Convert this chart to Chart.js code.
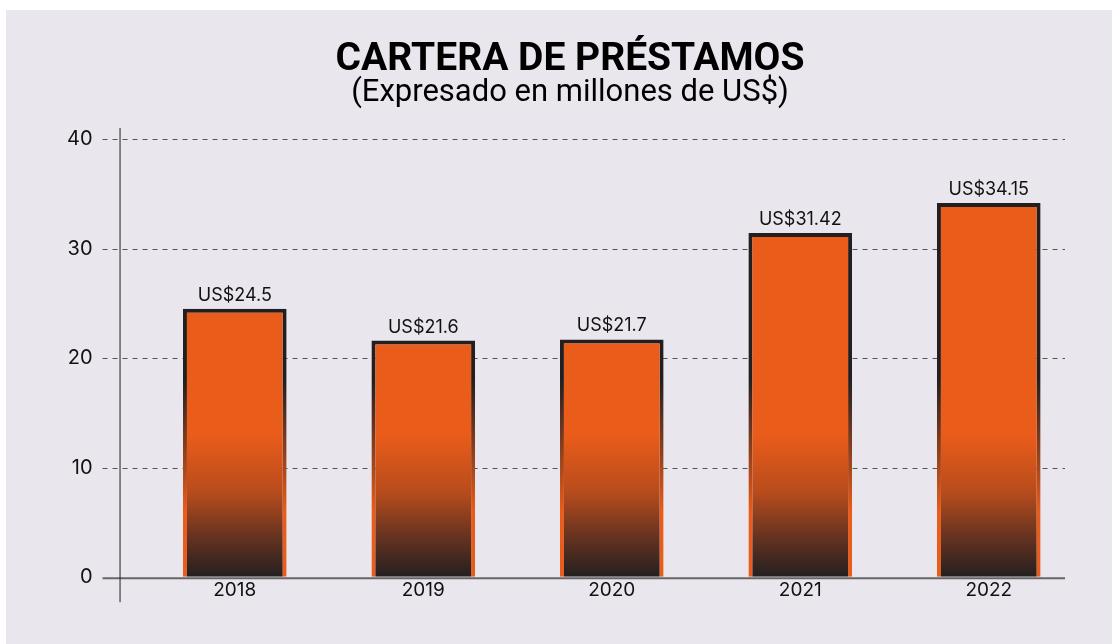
<!DOCTYPE html>
<html>
<head>
<meta charset="utf-8">
<script src="https://cdn.jsdelivr.net/npm/chart.js@4.4.0/dist/chart.umd.min.js"></script>
<style>
  body { margin: 0; background: #fff; }
  #bg { position: absolute; left: 6px; top: 10px; width: 1106px; height: 634px; background: #e9e6ed; }
  #wrap { position: absolute; left: 0; top: 0; width: 1112px; height: 644px; }
</style>
</head>
<body>
<div id="bg"></div>
<div id="wrap"><canvas id="carteraChart"></canvas></div>
<script>
const years = ['2018', '2019', '2020', '2021', '2022']
const cartera = [24.5, 21.6, 21.7, 31.42, 34.15]
const etiquetas = ['US$24.5', 'US$21.6', 'US$21.7', 'US$31.42', 'US$34.15']
const yTicks = [0, 10, 20, 30, 40]

const naranja = '#ea5c1a'
const oscuro = '#231f20'

// relleno: naranja arriba, oscuro en la base
function relleno(ctx) {
  const area = ctx.chart.chartArea
  if (!area) return naranja
  const y = ctx.chart.scales.y
  const g = ctx.chart.ctx.createLinearGradient(0, y.getPixelForValue(0), 0, y.getPixelForValue(13))
  g.addColorStop(0, oscuro)
  g.addColorStop(0.3, '#6a3420')
  g.addColorStop(0.6, '#b84c1c')
  g.addColorStop(1, naranja)
  return g
}

// borde: oscuro arriba, naranja abajo
function borde(ctx) {
  const area = ctx.chart.chartArea
  if (!area) return oscuro
  const y = ctx.chart.scales.y
  const g = ctx.chart.ctx.createLinearGradient(0, y.getPixelForValue(6), 0, y.getPixelForValue(18))
  g.addColorStop(0, naranja)
  g.addColorStop(1, oscuro)
  return g
}

const TICK = 38

const rejilla = {
  id: 'rejilla',
  beforeDatasetsDraw(chart) {
    const c = chart.ctx
    const a = chart.chartArea
    const y = chart.scales.y
    c.save()
    c.strokeStyle = '#555'
    c.lineWidth = 1
    c.setLineDash([5, 5])
    yTicks.forEach(v => {
      if (v === 0) return
      const py = Math.round(y.getPixelForValue(v)) + 0.5
      c.beginPath()
      c.moveTo(a.left - TICK, py)
      c.lineTo(a.right - 18, py)
      c.stroke()
    })
    c.restore()
  },
  afterDatasetsDraw(chart) {
    const c = chart.ctx
    const a = chart.chartArea
    const y0 = chart.scales.y.getPixelForValue(0)
    c.save()
    c.strokeStyle = '#666'
    c.lineWidth = 2
    c.beginPath()
    c.moveTo(a.left - TICK, y0 + 1)
    c.lineTo(a.right - 18, y0 + 1)
    c.stroke()
    // eje vertical
    const ax = a.left - 21 + 0.5
    c.strokeStyle = '#222'
    c.lineWidth = 1
    c.beginPath()
    c.moveTo(ax, a.top - 11)
    c.lineTo(ax, y0 + 25)
    c.stroke()

    // etiquetas de valor
    c.fillStyle = '#111'
    c.font = '18px Inter'
    c.textAlign = 'center'
    c.textBaseline = 'alphabetic'
    chart.getDatasetMeta(0).data.forEach((bar, i) => {
      c.fillText(etiquetas[i], bar.x, bar.y - 8)
    })
    c.restore()
  }
}

new Chart(document.getElementById('carteraChart'), {
  type: 'bar',
  data: {
    labels: years,
    datasets: [{
      data: cartera,
      backgroundColor: relleno,
      borderColor: borde,
      borderWidth: { top: 4, left: 4, right: 4, bottom: 0 },
      borderSkipped: 'bottom',
      categoryPercentage: 1,
      barPercentage: 0.55
    }]
  },
  options: {
    responsive: true,
    maintainAspectRatio: false,
    animation: false,
    layout: { padding: { left: 57, right: 29, top: 40, bottom: 48 } },
    plugins: {
      legend: { display: false },
      tooltip: { enabled: false },
      title: {
        display: true,
        text: 'CARTERA DE PRÉSTAMOS',
        color: '#000',
        font: { family: 'Roboto', size: 39, weight: 'bold', lineHeight: 1.05 },
        padding: { top: 0, bottom: 0 }
      },
      subtitle: {
        display: true,
        text: '(Expresado en millones de US$)',
        color: '#000',
        font: { family: 'Roboto', size: 31, lineHeight: 1.0 },
        padding: { top: -3, bottom: 30 }
      }
    },
    scales: {
      x: {
        grid: { display: false },
        border: { display: false },
        ticks: { color: '#111', font: { family: 'Inter', size: 19 }, padding: -6 }
      },
      y: {
        min: 0,
        max: 40,
        afterBuildTicks: (axis) => { axis.ticks = yTicks.map(v => ({ value: v })) },
        grid: {
          drawOnChartArea: false,
          color: 'rgba(0,0,0,0)',
          tickLength: TICK
        },
        border: { display: false },
        ticks: { color: '#111', font: { family: 'Inter', size: 20 }, padding: 10 }
      }
    }
  },
  plugins: [rejilla]
})
</script>
</body>
</html>
